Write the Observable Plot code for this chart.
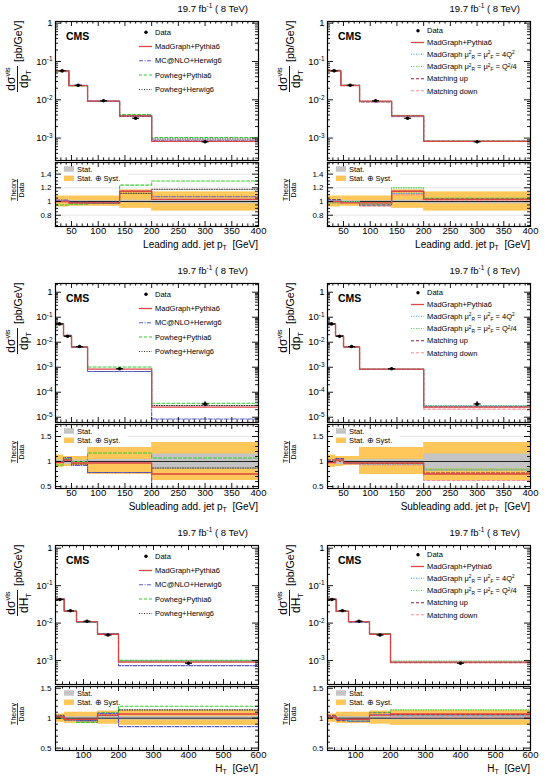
<!DOCTYPE html>
<html>
<head>
<meta charset="utf-8">
<script src="https://cdn.jsdelivr.net/npm/d3@7"></script>
<script src="https://cdn.jsdelivr.net/npm/@observablehq/plot@0.6"></script>
<style>
html,body{margin:0;padding:0;background:#fff;}
#root{position:relative;width:546px;height:776px;overflow:hidden;background:#fff;}
#root svg{position:absolute;overflow:visible;}
text{white-space:pre;}
</style>
</head>
<body>
<div id="root"></div>
<script>
const FONT = "'Liberation Sans', Arial, Helvetica, sans-serif";

// ---------- bin edges ----------
const leadingEdges = [20, 45, 80, 140, 200, 400];
const subleadingEdges = [20, 35, 50, 80, 200, 400];
const htEdges = [20, 45, 80, 140, 200, 600];

// ---------- tick labels ----------
const ptTicks = [50, 100, 150, 200, 250, 300, 350, 400];
const htTicks = [100, 200, 300, 400, 500, 600];
const ratioTicksLeading = [0.8, 1, 1.2, 1.4];
const ratioTicksWide = [0.5, 1, 1.5];

// ---------- leading additional jet pT ----------
const leadingData = [0.057, 0.024, 0.0094, 0.0033, 0.00080];
const leadingDataErr = [0.0015, 0.0006, 0.00025, 0.00012, 0.00005];
const leadingStat = [0.015, 0.012, 0.012, 0.02, 0.035];
const leadingSystLo = [0.92, 0.93, 0.93, 0.90, 0.86];
const leadingSystHi = [1.08, 1.08, 1.08, 1.17, 1.14];
const leadingMadGraphPythia = [1.00, 0.98, 0.98, 1.15, 1.03];
const leadingMcatnloHerwig = [1.02, 0.99, 0.98, 1.15, 1.07];
const leadingPowhegPythia = [0.95, 0.96, 0.97, 1.24, 1.30];
const leadingPowhegHerwig = [1.00, 0.98, 0.97, 1.12, 1.18];
const leadingScaleUp = [1.02, 0.99, 0.95, 1.12, 1.03];
const leadingScaleDown = [0.98, 1.00, 0.97, 1.20, 1.05];
const leadingMatchUp = [1.03, 1.00, 0.95, 1.15, 1.04];
const leadingMatchDown = [0.98, 0.99, 0.93, 1.10, 1.02];

// ---------- subleading additional jet pT ----------
const subData = [0.054, 0.0174, 0.0067, 0.00087, 0.000034];
const subDataErr = [0.0015, 0.0008, 0.0002, 0.00004, 0.000008];
const subStat = [0.03, 0.06, 0.03, 0.04, 0.15];
const subSystLo = [0.88, 0.90, 0.92, 0.74, 0.62];
const subSystHi = [1.13, 1.10, 1.10, 1.28, 1.38];
const subMadGraphPythia = [0.98, 1.03, 0.97, 0.97, 0.75];
const subMcatnloHerwig = [1.00, 1.08, 0.92, 0.78, 0.25];
const subPowhegPythia = [0.93, 1.05, 1.00, 1.17, 1.07];
const subPowhegHerwig = [1.00, 1.05, 0.95, 0.78, 0.87];
const subScaleUp = [1.00, 1.05, 0.96, 0.95, 0.83];
const subScaleDown = [1.00, 1.02, 0.98, 0.98, 0.85];
const subMatchUp = [1.03, 1.06, 0.97, 0.96, 0.77];
const subMatchDown = [0.97, 1.00, 0.95, 0.93, 0.62];

// ---------- HT ----------
const htData = [0.0426, 0.0213, 0.0112, 0.0048, 0.00085];
const htDataErr = [0.001, 0.0005, 0.0003, 0.00015, 0.00004];
const htStat = [0.02, 0.025, 0.025, 0.025, 0.03];
const htSystLo = [0.93, 0.91, 0.91, 0.90, 0.88];
const htSystHi = [1.07, 1.10, 1.10, 1.12, 1.13];
const htMadGraphPythia = [1.02, 0.98, 0.98, 1.05, 1.07];
const htMcatnloHerwig = [1.03, 0.97, 0.96, 1.08, 0.86];
const htPowhegPythia = [1.00, 0.98, 0.93, 1.09, 1.20];
const htPowhegHerwig = [1.05, 0.97, 0.96, 1.05, 1.14];
const htScaleUp = [1.03, 0.97, 0.95, 1.06, 1.04];
const htScaleDown = [1.00, 0.98, 0.97, 1.10, 1.14];
const htMatchUp = [1.05, 0.96, 0.95, 1.09, 1.06];
const htMatchDown = [1.00, 0.97, 0.96, 1.06, 1.02];

// ---------- styles ----------
const ORANGE = "#ffc65a", GRAY = "#c4c4c4";
const STY = {
  mg:    {stroke: "#dd4444", dash: undefined, width: 1.3},
  mcnlo: {stroke: "#5a5ad0", dash: "4,1.5,1,1.5", width: 1.1},
  phpy:  {stroke: "#33cc33", dash: "3,2", width: 1.1},
  phhw:  {stroke: "#333333", dash: "1,1.5", width: 1.1},
  q4:    {stroke: "#3d9be0", dash: "1,1.5", width: 1.1},
  qq4:   {stroke: "#55cc55", dash: "1,1.5", width: 1.1},
  mu:    {stroke: "#8c1c3c", dash: "3,2", width: 1.1},
  md:    {stroke: "#ff8f8f", dash: "3,2", width: 1.1}
};
const S = (t, o = {}) => Object.assign({t}, o);
const muLabel = (tail) => [S("MadGraph \u03bc"), S("2", {sh: -2.6, fs: 4.8}), S("R", {sh: 1.6, fs: 4.8}),
  S(" = \u03bc"), S("2", {sh: -2.6, fs: 4.8}), S("F", {sh: 1.6, fs: 4.8}), S(" = " + tail[0])]
  .concat(tail.slice(1));

function genModels(mg, mcnlo, phpy, phhw) {
  return [
    Object.assign({label: [S("MadGraph+Pythia6")], values: mg}, STY.mg),
    Object.assign({label: [S("MC@NLO+Herwig6")], values: mcnlo}, STY.mcnlo),
    Object.assign({label: [S("Powheg+Pythia6")], values: phpy}, STY.phpy),
    Object.assign({label: [S("Powheg+Herwig6")], values: phhw}, STY.phhw)
  ];
}
function varModels(mg, up, down, mu, md) {
  return [
    Object.assign({label: [S("MadGraph+Pythia6")], values: mg}, STY.mg),
    Object.assign({label: muLabel(["4Q", S("2", {sh: -2.6, fs: 4.8})]), values: up}, STY.q4),
    Object.assign({label: muLabel(["Q", S("2", {sh: -2.6, fs: 4.8}), S("/4", {sh: 0})]), values: down}, STY.qq4),
    Object.assign({label: [S("Matching up")], values: mu}, STY.mu),
    Object.assign({label: [S("Matching down")], values: md}, STY.md)
  ];
}

const genRows = [32.3, 46.5, 60.7, 75, 89.5];
const varRows = [30.7, 42.5, 54.3, 66.5, 78.7, 90.8];

const leadingCommon = {edges: leadingEdges, data: leadingData, err: leadingDataErr, stat: leadingStat,
  lo: leadingSystLo, hi: leadingSystHi, xDomain: [20, 400], xTicks: ptTicks, xMinorStep: 10,
  mainDomain: [10 ** -3.585, 10 ** 0.044], ratioDomain: [0.635, 1.57], ratioTicks: ratioTicksLeading,
  ratioMinorStep: 0.05, xTitle: "Leading add. jet p", denom: "p"};
const subCommon = {edges: subleadingEdges, data: subData, err: subDataErr, stat: subStat,
  lo: subSystLo, hi: subSystHi, xDomain: [20, 400], xTicks: ptTicks, xMinorStep: 10,
  mainDomain: [10 ** -5.21, 10 ** 0.348], ratioDomain: [0.46, 1.74], ratioTicks: ratioTicksWide,
  ratioMinorStep: 0.1, xTitle: "Subleading add. jet p", denom: "p"};
const htCommon = {edges: htEdges, data: htData, err: htDataErr, stat: htStat,
  lo: htSystLo, hi: htSystHi, xDomain: [20, 600], xTicks: htTicks, xMinorStep: 20,
  mainDomain: [10 ** -3.64, 10 ** 0.072], ratioDomain: [0.46, 1.53], ratioTicks: ratioTicksWide,
  ratioMinorStep: 0.1, xTitle: "H", denom: "H"};

const panels = [
  Object.assign({r: 0, c: 0, rows: genRows, models: genModels(leadingMadGraphPythia, leadingMcatnloHerwig, leadingPowhegPythia, leadingPowhegHerwig)}, leadingCommon),
  Object.assign({r: 0, c: 1, rows: varRows, models: varModels(leadingMadGraphPythia, leadingScaleUp, leadingScaleDown, leadingMatchUp, leadingMatchDown)}, leadingCommon),
  Object.assign({r: 1, c: 0, rows: genRows, models: genModels(subMadGraphPythia, subMcatnloHerwig, subPowhegPythia, subPowhegHerwig)}, subCommon),
  Object.assign({r: 1, c: 1, rows: varRows, models: varModels(subMadGraphPythia, subScaleUp, subScaleDown, subMatchUp, subMatchDown)}, subCommon),
  Object.assign({r: 2, c: 0, rows: genRows, models: genModels(htMadGraphPythia, htMcatnloHerwig, htPowhegPythia, htPowhegHerwig)}, htCommon),
  Object.assign({r: 2, c: 1, rows: varRows, models: varModels(htMadGraphPythia, htScaleUp, htScaleDown, htMatchUp, htMatchDown)}, htCommon)
];

// ---------- geometry ----------
const PW = 273, FL = 55, FR = 258, MT = 21, MB = 160, RT = 162, RB = 226;
const FW = FR - FL, MH = MB - MT, RH = RB - RT;

const hbar = {draw(ctx) { ctx.moveTo(-3.5, 0); ctx.lineTo(3.5, 0); }};
const stepPts = (edges, vals) => edges.map((e, i) => ({x: e, y: vals[Math.min(i, vals.length - 1)]}));

function edgeTicks(xMaj, xMin, yMaj, yMin, fh) {
  const big = 5, small = 2.6, ybig = 6, ysmall = 3;
  const o = {stroke: "black", strokeWidth: 0.9};
  return [
    Plot.tickX(xMaj, {x: d => d, insetTop: fh - big, ...o}),
    Plot.tickX(xMaj, {x: d => d, insetBottom: fh - big, ...o}),
    Plot.tickX(xMin, {x: d => d, insetTop: fh - small, ...o}),
    Plot.tickX(xMin, {x: d => d, insetBottom: fh - small, ...o}),
    Plot.tickY(yMaj, {y: d => d, insetRight: FW - ybig, ...o}),
    Plot.tickY(yMaj, {y: d => d, insetLeft: FW - ybig, ...o}),
    Plot.tickY(yMin, {y: d => d, insetRight: FW - ysmall, ...o}),
    Plot.tickY(yMin, {y: d => d, insetLeft: FW - ysmall, ...o})
  ];
}

function supify(svg, sel) {
  svg.querySelectorAll(sel).forEach(t => {
    const m = t.textContent.match(/^10\^(.+)$/);
    if (!m) return;
    t.textContent = "10";
    const ts = document.createElementNS("http://www.w3.org/2000/svg", "tspan");
    ts.setAttribute("dy", "-0.5em");
    ts.setAttribute("font-size", "0.68em");
    ts.textContent = m[1];
    t.appendChild(ts);
  });
}

const root = document.getElementById("root");

function buildPanel(p) {
  const ox = p.c * 272, oy = p.r * 262;
  const [x0, x1] = p.xDomain;
  const xMinor = d3.range(x0, x1 + 1e-9, p.xMinorStep).filter(v => v > x0 && v < x1 && !p.xTicks.includes(v));
  const xMajor = p.xTicks.filter(v => v < x1);
  const lmin = Math.log10(p.mainDomain[0]), lmax = Math.log10(p.mainDomain[1]);
  const decades = d3.range(Math.ceil(lmin), Math.floor(lmax) + 1).map(k => 10 ** k);
  const logMinor = [];
  for (let k = Math.floor(lmin); k <= Math.ceil(lmax); k++)
    for (let m = 2; m <= 9; m++) { const v = m * 10 ** k; if (v > p.mainDomain[0] && v < p.mainDomain[1]) logMinor.push(v); }
  const dataPts = p.data.map((v, i) => ({x: (p.edges[i] + p.edges[i + 1]) / 2, y: v, lo: v - p.err[i], hi: v + p.err[i]}));
  const drawOrder = [...p.models].reverse();

  const main = Plot.plot({
    width: PW, height: MB + 2, marginTop: MT, marginBottom: 2, marginLeft: FL, marginRight: PW - FR,
    style: {background: "transparent", fontFamily: FONT, overflow: "visible"},
    x: {domain: p.xDomain, axis: null},
    y: {type: "log", domain: p.mainDomain, axis: null},
    marks: [
      ...drawOrder.map(m => Plot.line(stepPts(p.edges, m.values.map((r, i) => r * p.data[i])),
        {x: "x", y: "y", curve: "step-after", stroke: m.stroke, strokeWidth: m.width, strokeDasharray: m.dash, clip: true})),
      Plot.ruleX(dataPts, {x: "x", y1: "lo", y2: "hi", stroke: "black", strokeWidth: 1.2}),
      Plot.dot(dataPts, {x: "x", y: "y", symbol: hbar, stroke: "black", strokeWidth: 1.2}),
      Plot.dot(dataPts, {x: "x", y: "y", r: 1.8, fill: "black"}),
      ...edgeTicks(xMajor, xMinor, decades, logMinor, MH),
      Plot.axisY(decades, {anchor: "left", tickSize: 0, tickPadding: 3, fontSize: 9.5, label: null,
        tickFormat: d => { const k = Math.round(Math.log10(d)); return k === 0 ? "1" : "10^" + k; }}),
      Plot.frame({stroke: "black", strokeWidth: 1.2})
    ]
  });
  supify(main, '[aria-label="y-axis tick label"] text');
  main.style.left = ox + "px"; main.style.top = oy + "px";
  root.appendChild(main);

  const [r0, r1] = p.ratioDomain;
  const rMinor = d3.range(Math.ceil(r0 / p.ratioMinorStep) * p.ratioMinorStep, r1, p.ratioMinorStep)
    .map(v => +v.toFixed(3)).filter(v => !p.ratioTicks.some(t => Math.abs(t - v) < 1e-6));
  const bands = p.data.map((_, i) => ({x1: p.edges[i], x2: p.edges[i + 1], lo: p.lo[i], hi: p.hi[i], s1: 1 - p.stat[i], s2: 1 + p.stat[i]}));
  const ratio = Plot.plot({
    width: PW, height: 110, marginTop: RT - 140, marginBottom: 250 - RB, marginLeft: FL, marginRight: PW - FR,
    style: {background: "transparent", fontFamily: FONT, overflow: "visible"},
    x: {domain: p.xDomain, axis: null},
    y: {domain: p.ratioDomain, axis: null},
    marks: [
      Plot.ruleY(p.ratioTicks.filter(v => v !== 1), {y: d => d, stroke: "#e6e6e6", strokeWidth: 1}),
      Plot.frame({fill: "white", stroke: "none", insetLeft: 1, insetTop: 1, insetRight: FW - 72, insetBottom: RH - 22}),
      Plot.rect(bands, {x1: "x1", x2: "x2", y1: "lo", y2: "hi", fill: ORANGE, clip: true}),
      Plot.rect(bands, {x1: "x1", x2: "x2", y1: "s1", y2: "s2", fill: GRAY, clip: true}),
      Plot.ruleY([1], {y: d => d, stroke: "#222", strokeWidth: 1}),
      ...drawOrder.map(m => Plot.line(stepPts(p.edges, m.values),
        {x: "x", y: "y", curve: "step-after", stroke: m.stroke, strokeWidth: m.width, strokeDasharray: m.dash, clip: true})),
      ...edgeTicks(xMajor, xMinor, p.ratioTicks, rMinor, RH),
      Plot.axisY(p.ratioTicks, {anchor: "left", tickSize: 0, tickPadding: 4, fontSize: 8, label: null, tickFormat: d => String(d)}),
      Plot.axisX(p.xTicks, {anchor: "bottom", tickSize: 0, tickPadding: 1, fontSize: 9.5, label: null, tickFormat: d => String(d)}),
      Plot.frame({stroke: "black", strokeWidth: 1.2})
    ]
  });
  ratio.style.left = ox + "px"; ratio.style.top = (oy + 140) + "px";
  root.appendChild(ratio);
}
panels.forEach(buildPanel);

// ---------- text overlay ----------
const ov = d3.select(root).append("svg").attr("width", 546).attr("height", 776)
  .style("left", "0px").style("top", "0px").style("pointer-events", "none").attr("font-family", FONT);

function rich(g, x, y, segs, {size = 10, anchor = "start", weight = null} = {}) {
  const t = g.append("text").attr("x", x).attr("y", y).attr("font-size", size).attr("text-anchor", anchor).attr("fill", "black");
  if (weight) t.attr("font-weight", weight);
  let cur = 0;
  for (const s of segs) {
    const sh = s.sh || 0;
    const ts = t.append("tspan").text(s.t).attr("dy", sh - cur);
    if (s.fs) ts.attr("font-size", s.fs);
    if (s.dx) ts.attr("dx", s.dx);
    cur = sh;
  }
  return t;
}

panels.forEach(p => {
  const ox = p.c * 272, oy = p.r * 262;
  // top-right luminosity label
  rich(ov, ox + 248, oy + 11.5, [S("19.7 fb"), S("-1", {sh: -3.5, fs: 6.5}), S(" ( 8 TeV)", {sh: 0})], {size: 9.5, anchor: "end"});
  // CMS
  rich(ov, ox + 66, oy + 40, [S("CMS")], {size: 10.5, weight: "bold"});
  // legend
  const rows = p.rows;
  const ly0 = oy + rows[0];
  ov.append("circle").attr("cx", ox + 146).attr("cy", ly0).attr("r", 1.7).attr("fill", "black");
  rich(ov, ox + 155, ly0 + 2.7, [S("Data")], {size: 7.5});
  p.models.forEach((m, i) => {
    const cy = oy + rows[i + 1];
    const ln = ov.append("line").attr("x1", ox + 139).attr("x2", ox + 152).attr("y1", cy).attr("y2", cy)
      .attr("stroke", m.stroke).attr("stroke-width", m.width);
    if (m.dash) ln.attr("stroke-dasharray", m.dash);
    rich(ov, ox + 155, cy + 2.7, m.label, {size: 7.5});
  });
  // ratio legend
  const sy = oy + RT + 7, oy2 = oy + RT + 16.3;
  ov.append("rect").attr("x", ox + 64).attr("y", sy - 2.7).attr("width", 10).attr("height", 5.4).attr("fill", GRAY);
  rich(ov, ox + 77, sy + 2.6, [S("Stat.")], {size: 7.5});
  ov.append("rect").attr("x", ox + 64).attr("y", oy2 - 2.7).attr("width", 10).attr("height", 5.4).attr("fill", ORANGE);
  rich(ov, ox + 77, oy2 + 2.6, [S("Stat. \u2295 Syst.")], {size: 7.5});
  // y title main
  const g = ov.append("g").attr("transform", `translate(${ox + 17.5},${oy + 79}) rotate(-90)`);
  rich(g, 0, -3, [S("d\u03c3"), S("vis", {sh: -4.5, fs: 7.5})], {size: 12, anchor: "middle"});
  g.append("line").attr("x1", -13).attr("x2", 13).attr("y1", 0).attr("y2", 0).attr("stroke", "black").attr("stroke-width", 0.9);
  rich(g, 0, 10.5, [S("d" + p.denom), S("T", {sh: 3, fs: 7.5})], {size: 12, anchor: "middle"});
  rich(g, 17, 4.5, [S("[pb/GeV]")], {size: 10.5});
  // y title ratio
  const g2 = ov.append("g").attr("transform", `translate(${ox + 17.5},${oy + 190}) rotate(-90)`);
  rich(g2, 0, -1.8, [S("Theory")], {size: 7, anchor: "middle"});
  g2.append("line").attr("x1", -11).attr("x2", 11).attr("y1", 0).attr("y2", 0).attr("stroke", "black").attr("stroke-width", 0.7);
  rich(g2, 0, 6.8, [S("Data")], {size: 7, anchor: "middle"});
  // x title
  rich(ov, ox + 258, oy + 247.5, [S(p.xTitle), S("T", {sh: 2.5, fs: 7}), S("  [GeV]", {sh: 0})], {size: 10, anchor: "end"});
});
</script>
</body>
</html>
